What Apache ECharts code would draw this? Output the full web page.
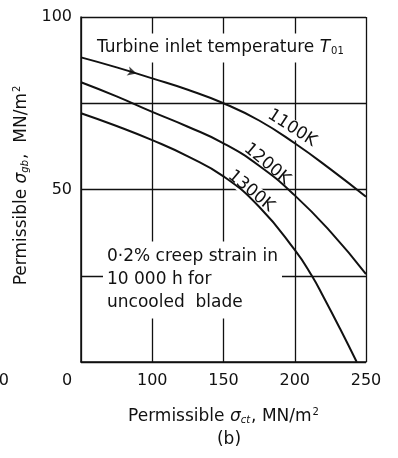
<!DOCTYPE html>
<html>
<head>
<meta charset="UTF-8">
<script src="https://cdn.jsdelivr.net/npm/echarts@6/dist/echarts.min.js"></script>
<style>
  html, body { margin: 0; padding: 0; background: #fff; }
  #chart { width: 398px; height: 458px; }
</style>
</head>
<body>
<div id="chart"></div>
<script>
// permissible sigma_ct (x) and sigma_gb (y), MN/m^2
var xs = [50, 75, 100, 125, 150, 175, 200, 225, 250];
var k1100 = [88.3, 85.4, 82.2, 78.9, 75.0, 70.0, 63.4, 55.9, 47.9];
var k1200 = [81.1, 77.0, 72.5, 68.2, 63.4, 56.9, 48.3, 37.8, 25.5];
var xs1300 = [50, 75, 100, 125, 150, 175, 200, 212, 220, 232, 243.5];
var k1300 = [72.1, 68.4, 64.3, 59.6, 53.8, 45.0, 32.5, 25.0, 19.0, 9.5, 0];
var arrowAt = [89, 83.6];

var xTicks = [100, 150, 200, 250];
var yTicks = [50, 100];

function pairs(x, y) {
    return x.map(function (v, i) { return [v, y[i]]; });
}

var font = 'DejaVu Sans';
var ink = '#111';

var chart = echarts.init(document.getElementById('chart'));

function curve(name, data) {
    return {
        name: name,
        type: 'line',
        data: data,
        smooth: 0.5,
        showSymbol: false,
        lineStyle: { color: ink, width: 2 },
        z: 3
    };
}

var nameRich = {
    n: { fontFamily: font, fontSize: 17, color: ink },
    s: { fontFamily: font, fontStyle: 'italic', fontSize: 17, color: ink },
    sub: { fontFamily: font, fontStyle: 'italic', fontSize: 10, color: ink, padding: [7, 1, 0, 0] },
    sup: { fontFamily: font, fontSize: 10, color: ink, padding: [0, 0, 9, 1] }
};

// text boxes sit above the grid lines but under the curves
var boxText = function (text, x, y, rot, extra) {
    var o = {
        type: 'text',
        x: x,
        y: y,
        rotation: rot * Math.PI / 180,
        z: 1,
        style: {
            text: text,
            fontFamily: font,
            fontSize: 17,
            fill: ink,
            align: 'center',
            verticalAlign: 'middle',
            backgroundColor: '#fff',
            padding: [0, 1]
        }
    };
    if (extra) {
        for (var k in extra) o.style[k] = extra[k];
    }
    return o;
};

var option = {
    animation: false,
    grid: { left: 81, right: 32, top: 17, bottom: 96 },
    xAxis: {
        type: 'value',
        min: 50,
        max: 250,
        interval: 50,
        name: '{n|Permissible }{s|σ}{sub|ct}{n|, MN/m}{sup|2}',
        nameLocation: 'middle',
        nameGap: 45,
        nameTextStyle: { rich: nameRich },
        axisLine: { lineStyle: { color: ink, width: 1.5 } },
        axisTick: { show: false },
        axisLabel: {
            fontFamily: font,
            fontSize: 16,
            color: ink,
            margin: 11,
            formatter: function (v) { return xTicks.indexOf(v) >= 0 ? String(v) : ''; }
        },
        splitLine: { show: true, lineStyle: { color: ink, width: 1.3 } }
    },
    yAxis: {
        type: 'value',
        min: 0,
        max: 100,
        interval: 25,
        name: '{n|Permissible }{s|σ}{sub|gb}{n|,  MN/m}{sup|2}',
        nameLocation: 'middle',
        nameRotate: 90,
        nameGap: 44,
        nameTextStyle: { rich: nameRich, padding: [0, 0, 0, 8] },
        axisLine: { show: true, lineStyle: { color: ink, width: 1.5 } },
        axisTick: { show: false },
        axisLabel: {
            fontFamily: font,
            fontSize: 16,
            color: ink,
            margin: 9,
            formatter: function (v) { return yTicks.indexOf(v) >= 0 ? String(v) : ''; }
        },
        splitLine: { show: true, lineStyle: { color: ink, width: 1.3 } }
    },
    series: [
        curve('1100K', pairs(xs, k1100)),
        curve('1200K', pairs(xs, k1200)),
        curve('1300K', pairs(xs1300, k1300)),
        {
            type: 'scatter',
            data: [arrowAt],
            symbol: 'arrow',
            symbolSize: [7, 9],
            symbolRotate: -106,
            itemStyle: { color: ink },
            z: 4
        }
    ],
    graphic: [
        {
            type: 'text',
            x: 91,
            y: 48,
            z: 1,
            style: {
                rich: {
                    n: { fontFamily: font, fontSize: 17, fill: ink },
                    t: { fontFamily: font, fontStyle: 'italic', fontSize: 17, fill: ink },
                    sub: { fontFamily: font, fontSize: 10, fill: ink, padding: [7, 0, 0, 1] }
                },
                text: '{n|Turbine inlet temperature }{t|T}{sub|01}',
                verticalAlign: 'middle',
                backgroundColor: '#fff',
                padding: [6, 6]
            }
        },
        {
            type: 'text',
            x: 103,
            y: 280,
            z: 1,
            style: {
                text: '0·2% creep strain in\n10 000 h for\nuncooled  blade',
                fontFamily: font,
                fontSize: 17,
                lineHeight: 23,
                fill: ink,
                verticalAlign: 'middle',
                backgroundColor: '#fff',
                padding: [4, 4]
            }
        },
        boxText('1100K', 292, 128, -33),
        boxText('1200K', 267, 164, -40),
        boxText('1300K', 251, 191, -40),
        boxText('0', 67, 381, 0, { fontSize: 16, backgroundColor: 'transparent', padding: 0 }),
        boxText('0', 9, 381, 0, { fontSize: 16, backgroundColor: 'transparent', padding: 0, align: 'right' }),
        boxText('(b)', 229, 440, 0, { backgroundColor: 'transparent', padding: 0 })
    ]
};

chart.setOption(option);
</script>
</body>
</html>
